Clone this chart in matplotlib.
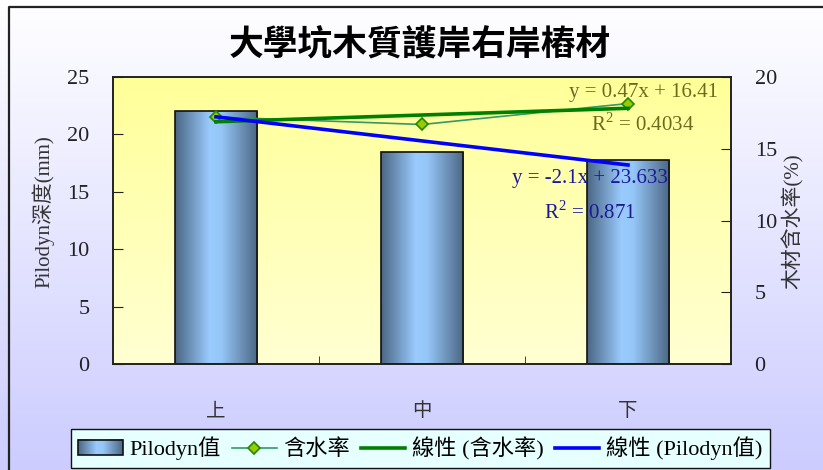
import numpy as np
import matplotlib
matplotlib.use("Agg")
import matplotlib.pyplot as plt
from matplotlib.colors import LinearSegmentedColormap
from matplotlib.lines import Line2D
from matplotlib.patches import Rectangle
from matplotlib.image import BboxImage
from matplotlib.transforms import Bbox, TransformedBbox
from matplotlib.legend_handler import HandlerBase

plt.rcParams['font.family'] = ['Liberation Serif', 'Noto Sans CJK TC']
plt.rcParams['mathtext.fontset'] = 'custom'
plt.rcParams['mathtext.rm'] = 'Liberation Serif'

# data
positions = ['上', '中', '下']
pilodyn = [22.0, 18.5, 17.8]          # mm
moisture = [17.21, 16.69, 18.15]      # %
moist_eq = ['y = 0.47x + 16.41', 'R$^2$ = 0.4034']
pilo_eq = ['y = -2.1x + 23.633', 'R$^2$ = 0.871']
title = '大學坑木質護岸右岸樁材'

x = np.arange(1, len(positions) + 1)

bar_cmap = LinearSegmentedColormap.from_list(
    'bar', [(0, '#4b6683'), (0.42, '#9acbff'), (0.56, '#95c6f8'), (1, '#4b6683')])
bg_cmap = LinearSegmentedColormap.from_list('bg', ['#ccccff', '#ffffff'])
plot_cmap = LinearSegmentedColormap.from_list('plot', ['#ffffd2', '#ffff99'])

fig = plt.figure(figsize=(8.23, 4.70), dpi=100)

# page background
bg = fig.add_axes([0, 0, 1, 1], zorder=-10)
bg.imshow(np.linspace(0, 1, 256).reshape(-1, 1)[::-1], cmap=bg_cmap,
          aspect='auto', extent=[0, 1, 0, 1])
bg.axis('off')
fig.add_artist(Line2D([9 / 823, 9 / 823, 1], [0, 1 - 7 / 470, 1 - 7 / 470],
                      color='#222222', lw=1.6, transform=fig.transFigure))

ax = fig.add_axes([113 / 823, 1 - 364 / 470, 618 / 823, 287 / 470])
ax.set_xlim(0.5, 3.5)
ax.set_ylim(0, 25)
ax.imshow(np.linspace(0, 1, 256).reshape(-1, 1), cmap=plot_cmap, origin='lower',
          aspect='auto', extent=[0.5, 3.5, 0, 25], zorder=0)

# bars with a horizontal gradient
bw = 0.4
grad = np.linspace(0, 1, 256).reshape(1, -1)
bars = ax.bar(x, pilodyn, width=bw, facecolor='none', edgecolor='#111111',
              linewidth=1.2, zorder=3)
for b, v in zip(bars, pilodyn):
    im = ax.imshow(grad, cmap=bar_cmap, aspect='auto', zorder=2,
                   extent=[b.get_x(), b.get_x() + bw, 0, v])
    im.set_clip_path(b)

ax2 = ax.twinx()
ax2.set_ylim(0, 20)

ax2.plot(x, moisture, color='#339966', lw=1.2, marker='D', ms=6,
         mfc='#99cc00', mec='#228800', mew=1.2, zorder=3)

m1, b1 = np.polyfit(x, moisture, 1)
ax2.plot(x, m1 * x + b1, color='#008000', lw=2.6, zorder=4)
m2, b2 = np.polyfit(x, pilodyn, 1)
ax2.plot(x, m2 * x + b2, color='#0000ff', lw=2.6, zorder=5, transform=ax.transData)

eq_kw = dict(ha='center', va='center', fontsize=15, zorder=6)
ax.text(3.073, 23.69, moist_eq[0], color='#6b6b1e', **eq_kw)
ax.text(3.073, 20.82, moist_eq[1], color='#6b6b1e', **eq_kw)
ax.text(2.815, 16.2, pilo_eq[0], color='#1a1a99', **eq_kw)
ax.text(2.815, 13.24, pilo_eq[1], color='#1a1a99', **eq_kw)

# axes styling
ax.set_xticks(x)
ax.set_xticklabels(positions, family=['Noto Sans CJK TC'], fontsize=14, color='#333333')
ax.set_xticks([1.5, 2.5], minor=True)
ax.tick_params(axis='x', which='major', length=0, pad=26)
ax.tick_params(axis='x', which='minor', direction='in', length=6, color='#222222')
ax.set_yticks(np.arange(0, 26, 5))
ax.tick_params(axis='y', direction='in', length=7, labelsize=16, pad=17,
               labelcolor='#222222', color='#222222')
ax2.set_yticks(np.arange(0, 21, 5))
ax2.tick_params(axis='y', direction='in', length=7, labelsize=16, pad=17,
                labelcolor='#222222', color='#222222')
for a in (ax, ax2):
    for s in a.spines.values():
        s.set_color('#222222')
        s.set_linewidth(1.2)

fig.text(43 / 823, 1 - 212 / 470, 'Pilodyn深度(mm)', rotation=90, ha='center',
         va='center', fontsize=15, color='#333333')
fig.text(793 / 823, 1 - 221 / 470, '木材含水率(%)', rotation=90, ha='center',
         va='center', fontsize=15, color='#333333')
fig.text(420 / 823, 1 - 45 / 470, title, ha='center', va='center', fontsize=25,
         fontweight='bold', family=['Noto Sans CJK TC'], color='black')


class GradientBarHandler(HandlerBase):
    def create_artists(self, legend, orig_handle, xdescent, ydescent,
                       width, height, fontsize, trans):
        bb = TransformedBbox(Bbox.from_bounds(-xdescent, -ydescent, width, height), trans)
        img = BboxImage(bb, cmap=bar_cmap, interpolation='bicubic')
        img.set_data(grad)
        rect = Rectangle((-xdescent, -ydescent), width, height, fc='none',
                         ec='#111111', lw=1.2, transform=trans)
        return [img, rect]


bar_handle = Rectangle((0, 0), 1, 1)
moist_handle = Line2D([], [], color='#339966', lw=1.2, marker='D', ms=6,
                      mfc='#99cc00', mec='#228800', mew=1.2)
trend1 = Line2D([], [], color='#008000', lw=2.6)
trend2 = Line2D([], [], color='#0000ff', lw=2.6)
leg = fig.legend([bar_handle, moist_handle, trend1, trend2],
                 ['Pilodyn值', '含水率', '線性 (含水率)', '線性 (Pilodyn值)'],
                 handler_map={Rectangle: GradientBarHandler()},
                 loc='center', bbox_to_anchor=(420.5 / 823, 1 - 448.5 / 470),
                 ncol=4, fontsize=16, frameon=True, fancybox=False,
                 handlelength=2.0, handletextpad=0.3, columnspacing=0.5,
                 borderpad=0.35, edgecolor='#111111', facecolor='#e6ffff', framealpha=1)
leg.get_frame().set_linewidth(1.0)

fig.savefig('out.png', dpi=100)
